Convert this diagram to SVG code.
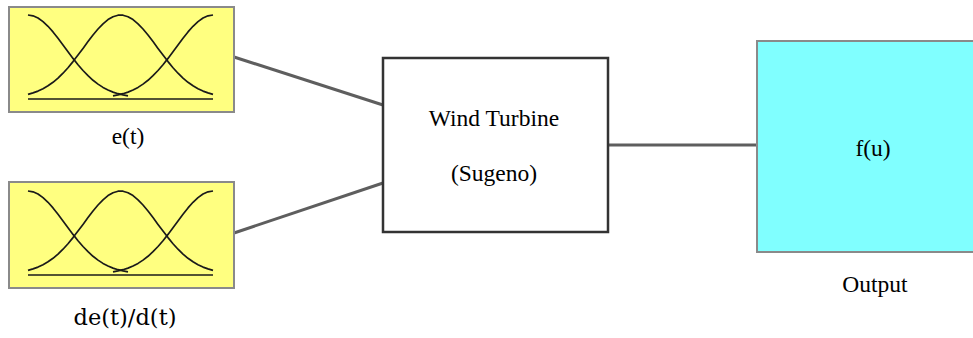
<svg xmlns="http://www.w3.org/2000/svg" width="973" height="338" viewBox="0 0 973 338">
<style>
.in{fill:#ffff80;stroke:#8a8a8a;stroke-width:2}
.mf{fill:none;stroke:#1a1a1a;stroke-width:1.7;stroke-linejoin:round}
.lbl{font-family:"Liberation Serif",serif;font-size:23.5px;fill:#000;text-anchor:middle}
.conn{stroke:#5e5e5e;stroke-width:3;fill:none}
</style>
<defs>
<g id="mfs">
<polyline class="mf" points="0,0 5,0.8 10,3 15,6.6 20,11.3 25,16.9 30,23.3 35,29.9 40,36.7 45,43.4 50,49.7 55,55.5 60,60.7 65,65.3 70,69.1 75,72.4 80,75 85,77.1 90,78.7 95,79.9 100,80.8"/>
<polyline class="mf" points="185,0 180,0.8 175,3 170,6.6 165,11.3 160,16.9 155,23.3 150,29.9 145,36.7 140,43.4 135,49.7 130,55.5 125,60.7 120,65.3 115,69.1 110,72.4 105,75 100,77.1 95,78.7 90,79.9 85,80.8"/>
<polyline class="mf" points="0,79.4 5,77.9 10,76.1 15,73.7 20,70.8 25,67.3 30,63.1 35,58.2 40,52.7 45,46.6 50,40.1 55,33.4 60,26.6 65,20 70,14 75,8.8 80,4.6 85,1.7 90,0.2 92.5,0 95,0.2 100,1.7 105,4.6 110,8.8 115,14 120,20 125,26.6 130,33.4 135,40.1 140,46.6 145,52.7 150,58.2 155,63.1 160,67.3 165,70.8 170,73.7 175,76.1 180,77.9 185,79.4"/>
<path class="mf" d="M0,84 H185" stroke-width="2"/>
</g>
</defs>
<g id="connectors">
<line class="conn" x1="234" y1="57" x2="383" y2="105"/>
<line class="conn" x1="234" y1="233" x2="383" y2="183"/>
<line class="conn" x1="608" y1="145" x2="757" y2="145"/>
</g>
<g id="input1">
<rect class="in" x="9" y="7" width="225" height="105"/>
<use href="#mfs" x="28" y="15"/>
<text class="lbl" x="128" y="144">e(t)</text>
</g>
<g id="input2">
<rect class="in" x="9" y="182" width="225" height="106"/>
<use href="#mfs" x="28" y="191"/>
<text x="125" y="325" style="font-family:'DejaVu Serif',serif;font-size:22.5px;text-anchor:middle">de(t)/d(t)</text>
</g>
<g id="fis">
<rect x="383" y="58" width="225" height="174" fill="#fff" stroke="#333" stroke-width="2.5"/>
<text class="lbl" x="494" y="126">Wind Turbine</text>
<text class="lbl" x="494" y="181">(Sugeno)</text>
</g>
<g id="output">
<rect x="757" y="41" width="220" height="211" fill="#80ffff" stroke="#8a8a8a" stroke-width="2"/>
<text class="lbl" x="873" y="156">f(u)</text>
<text class="lbl" x="875" y="292">Output</text>
</g>
</svg>
